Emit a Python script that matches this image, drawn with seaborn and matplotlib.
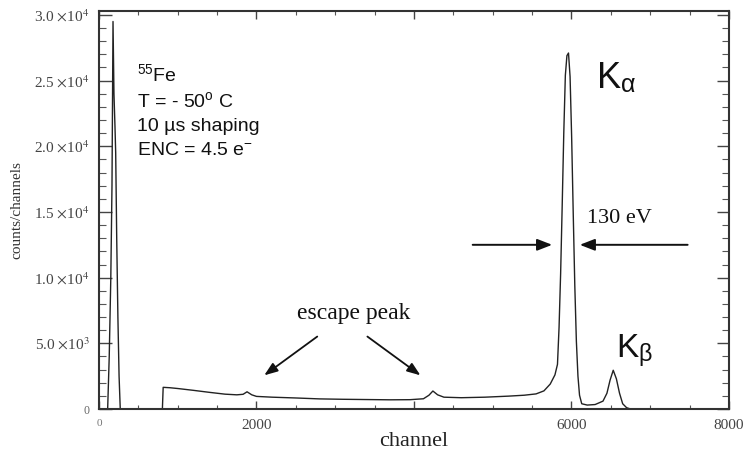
import numpy as np
import pandas as pd
import matplotlib
matplotlib.use('Agg')
import matplotlib.pyplot as plt
import seaborn as sns
from matplotlib.ticker import MultipleLocator

# Data
channel = [0, 110, 130, 150, 165, 178, 190, 203, 212, 225, 240, 255, 270,
           805, 815, 900, 1000, 1200, 1400, 1600, 1750, 1830, 1880, 1940,
           2000, 2200, 2500, 2800, 3100, 3400, 3700, 3950, 4120, 4190, 4240,
           4300, 4380, 4600, 4900, 5200, 5400, 5550, 5650, 5730, 5790, 5822,
           5842, 5862, 5882, 5902, 5922, 5942, 5962, 5982, 6002, 6022, 6042,
           6062, 6082, 6102, 6130, 6200, 6300, 6400, 6450, 6490, 6530, 6570,
           6610, 6650, 6700, 6750, 8000]
counts = [0, 0, 4000, 10000, 17000, 29500, 24000, 21500, 19500, 13000, 7000, 2500, 0,
          0, 1650, 1620, 1560, 1420, 1270, 1130, 1080, 1120, 1310, 1080,
          960, 900, 840, 770, 740, 720, 700, 710, 780, 1050, 1370,
          1080, 900, 860, 900, 980, 1050, 1150, 1380, 1900, 2600, 3400,
          6200, 10300, 15500, 21000, 25400, 26900, 27100, 25300, 20700, 14900, 9400,
          5150, 2500, 1050, 400, 300, 340, 600, 1200, 2200, 2950, 2300,
          1200, 400, 100, 0, 0]

x_ticks = [0, 2000, 4000, 6000, 8000]
x_labels = ['0', '2000', '', '6000', '8000']
y_ticks = [0, 5000, 10000, 15000, 20000, 25000, 30000]
y_labels = ['0', r'5.0 $\times$10$^3$', r'1.0 $\times$10$^4$', r'1.5 $\times$10$^4$',
            r'2.0 $\times$10$^4$', r'2.5 $\times$10$^4$', r'3.0 $\times$10$^4$']

df = pd.DataFrame({'channel': channel, 'counts': counts})

sns.set_style('ticks')
plt.rcParams['font.family'] = ['Liberation Serif', 'DejaVu Serif']
plt.rcParams['mathtext.fontset'] = 'stix'
plt.rcParams['mathtext.rm'] = 'Liberation Sans'
plt.rcParams['mathtext.it'] = 'Liberation Sans:italic'
plt.rcParams['mathtext.bf'] = 'Liberation Sans:bold'

fig = plt.figure(figsize=(7.46, 4.54), dpi=100)
ax = fig.add_axes([0.1327, 0.0991, 0.8445, 0.8767])

sns.lineplot(data=df, x='channel', y='counts', estimator=None, color='#222222',
             linewidth=1.0, ax=ax)

ax.set_xlim(0, 8000)
ax.set_ylim(0, 30300)
ax.set_xticks(x_ticks)
ax.set_xticklabels(x_labels)
ax.set_yticks(y_ticks)
ax.set_yticklabels(y_labels)
ax.xaxis.set_minor_locator(MultipleLocator(500))
ax.yaxis.set_minor_locator(MultipleLocator(1000))

for s in ax.spines.values():
    s.set_visible(True)
    s.set_linewidth(1.5)
    s.set_color('#333333')

ax.tick_params(axis='x', which='major', direction='in', length=6, width=1,
               top=True, labelsize=11, labelcolor='#444444', pad=7, color='#444444')
ax.tick_params(axis='x', which='minor', direction='in', length=3, width=0.8,
               top=True, color='#555555')
ax.tick_params(axis='y', which='major', direction='in', length=9, width=1,
               right=True, labelsize=11, labelcolor='#444444', pad=7, color='#444444')
ax.tick_params(axis='y', which='minor', direction='in', length=5, width=0.8,
               right=True, color='#555555')
ax.get_xticklabels()[0].set_fontsize(8)
ax.get_xticklabels()[0].set_color('#777777')
ax.get_yticklabels()[0].set_fontsize(8.5)
ax.get_yticklabels()[0].set_color('#666666')

ax.set_xlabel('channel', fontsize=16, color='#222222', labelpad=0)
ax.set_ylabel('counts/channels', fontsize=11, color='#333333', labelpad=8)

# measurement conditions
info = [r'$^{55}$Fe', r'T = - 50$^{\mathrm{o}}$ C', '10 µs shaping',
        r'ENC = 4.5 e$^{\mathrm{-}}$']
info_y = [25000, 23000, 21200, 19300]
for txt, yy in zip(info, info_y):
    ax.text(480, yy, txt, fontsize=14, family='Liberation Sans', va='baseline',
            color='#111111', math_fontfamily='custom')

ax.text(6310, 24400, r'K$_{\mathregular{\alpha}}$', fontsize=26, family='Liberation Sans',
        va='baseline', color='#111111', math_fontfamily='stix')
ax.text(6560, 3900, r'K$_{\mathregular{\beta}}$', fontsize=24, family='Liberation Sans',
        va='baseline', color='#111111', math_fontfamily='stix')

ax.text(6200, 14150, '130 eV', fontsize=16, va='baseline', color='#111111')
ax.annotate('', xy=(5790, 12500), xytext=(4710, 12500),
            arrowprops=dict(arrowstyle='-|>,head_length=0.9,head_width=0.35',
                            color='#111111', lw=1.4))
ax.annotate('', xy=(6070, 12500), xytext=(7510, 12500),
            arrowprops=dict(arrowstyle='-|>,head_length=0.9,head_width=0.35',
                            color='#111111', lw=1.4))

ax.text(3240, 7300, 'escape peak', fontsize=17, ha='center', va='center', color='#111111')
ax.annotate('', xy=(2070, 2440), xytext=(2800, 5640),
            arrowprops=dict(arrowstyle='-|>,head_length=0.8,head_width=0.3',
                            color='#111111', lw=1.3))
ax.annotate('', xy=(4110, 2440), xytext=(3380, 5640),
            arrowprops=dict(arrowstyle='-|>,head_length=0.8,head_width=0.3',
                            color='#111111', lw=1.3))

plt.savefig('out.png', dpi=100)
